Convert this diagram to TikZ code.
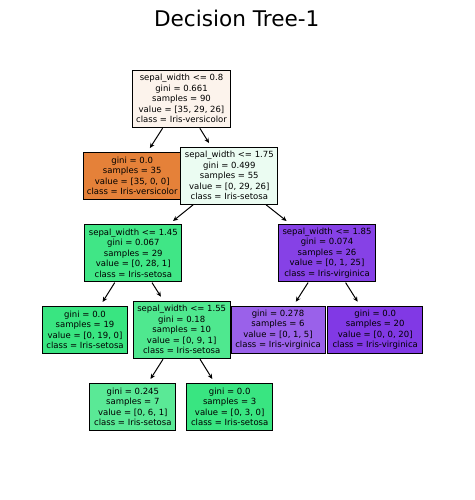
\documentclass[tikz,border=0pt]{standalone}
\usepackage{fontspec}
\setmainfont{DejaVu Sans}
\usetikzlibrary{arrows.meta}
\definecolor{cRoot}{RGB}{252,243,236}
\definecolor{cOrange}{RGB}{229,129,57}
\definecolor{cGreenA}{RGB}{235,252,242}
\definecolor{cGreenB}{RGB}{64,230,134}
\definecolor{cGreenC}{RGB}{57,229,129}
\definecolor{cGreenD}{RGB}{79,232,143}
\definecolor{cGreenE}{RGB}{90,233,150}
\definecolor{cPurpA}{RGB}{134,65,230}
\definecolor{cPurpB}{RGB}{154,97,234}
\definecolor{cPurpC}{RGB}{129,57,229}
\tikzset{
  treenode/.style={draw=black, line width=1pt, inner sep=0pt, align=center,
    font=\fontsize{8.5}{10.5}\selectfont, text=black},
  edge/.style={line width=1pt, -{Stealth[length=5pt,width=4.5pt]}, shorten >=4.5pt, shorten <=0.5pt}
}
\begin{document}
\begin{tikzpicture}[x=1pt,y=-1pt]
\useasboundingbox[fill=white] (0,0) rectangle (474,500);
\node[anchor=base, font=\fontsize{21.6}{26}\selectfont] (title) at (236.7,26.7) {Decision Tree-1};

\node[treenode, fill=cRoot, minimum width=98.4pt, minimum height=57.3pt] (root) at (181.5,98.7)
  {sepal\_width <= 0.8\\gini = 0.661\\samples = 90\\value = [35, 29, 26]\\class = Iris-versicolor};
\node[treenode, fill=cOrange, minimum width=97.7pt, minimum height=46.7pt] (n1L) at (132.2,175.7)
  {gini = 0.0\\samples = 35\\value = [35, 0, 0]\\class = Iris-versicolor};
\node[treenode, fill=cGreenA, minimum width=96.7pt, minimum height=56.7pt] (n1R) at (229.3,175.7)
  {sepal\_width <= 1.75\\gini = 0.499\\samples = 55\\value = [0, 29, 26]\\class = Iris-setosa};
\node[treenode, fill=cGreenB, minimum width=96.7pt, minimum height=57.4pt] (n2L) at (133.3,253)
  {sepal\_width <= 1.45\\gini = 0.067\\samples = 29\\value = [0, 28, 1]\\class = Iris-setosa};
\node[treenode, fill=cPurpA, minimum width=97.4pt, minimum height=57.4pt] (n2R) at (327,253)
  {sepal\_width <= 1.85\\gini = 0.074\\samples = 26\\value = [0, 1, 25]\\class = Iris-virginica};
\node[treenode, fill=cGreenC, minimum width=85.4pt, minimum height=47.5pt] (n3a) at (85,330)
  {gini = 0.0\\samples = 19\\value = [0, 19, 0]\\class = Iris-setosa};
\node[treenode, fill=cGreenD, minimum width=96.7pt, minimum height=57.3pt] (n3b) at (181.7,329.7)
  {sepal\_width <= 1.55\\gini = 0.18\\samples = 10\\value = [0, 9, 1]\\class = Iris-setosa};
\node[treenode, fill=cPurpB, minimum width=94pt, minimum height=47.3pt] (n3c) at (278,329.7)
  {gini = 0.278\\samples = 6\\value = [0, 1, 5]\\class = Iris-virginica};
\node[treenode, fill=cPurpC, minimum width=95pt, minimum height=47.3pt] (n3d) at (375.2,329.7)
  {gini = 0.0\\samples = 20\\value = [0, 0, 20]\\class = Iris-virginica};
\node[treenode, fill=cGreenE, minimum width=85.7pt, minimum height=47.4pt] (n4a) at (132.8,407)
  {gini = 0.245\\samples = 7\\value = [0, 6, 1]\\class = Iris-setosa};
\node[treenode, fill=cGreenC, minimum width=86pt, minimum height=47.4pt] (n4b) at (229.7,407)
  {gini = 0.0\\samples = 3\\value = [0, 3, 0]\\class = Iris-setosa};

\draw[edge] (root) -- (n1L);
\draw[edge] (root) -- (n1R);
\draw[edge] (n1R) -- (n2L);
\draw[edge] (n1R) -- (n2R);
\draw[edge] (n2L) -- (n3a);
\draw[edge] (n2L) -- (n3b);
\draw[edge] (n2R) -- (n3c);
\draw[edge] (n2R) -- (n3d);
\draw[edge] (n3b) -- (n4a);
\draw[edge] (n3b) -- (n4b);
\end{tikzpicture}
\end{document}
